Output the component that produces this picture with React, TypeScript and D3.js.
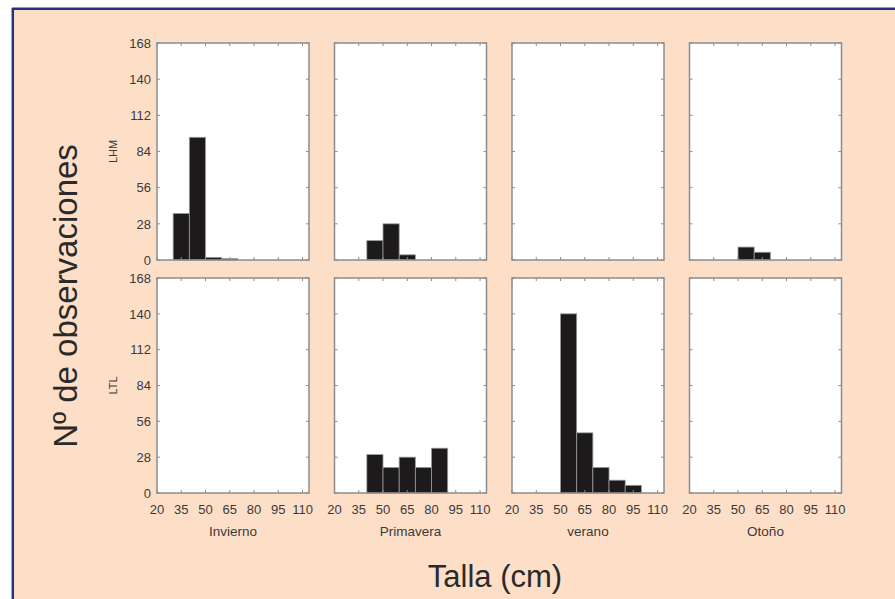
import React from "react";
import * as d3 from "d3";

const seasons = ["Invierno", "Primavera", "verano", "Otoño"];
const rowNames = ["LHM", "LTL"];
const xTicks = [20, 35, 50, 65, 80, 95, 110];
const yTicks = [0, 28, 56, 84, 112, 140, 168];
const binWidth = 10;

// LHM row
const lhmInviernoBins = [30, 40, 50, 60];
const lhmInviernoCounts = [36, 95, 2, 1];
const lhmPrimaveraBins = [40, 50, 60];
const lhmPrimaveraCounts = [15, 28, 4];
const lhmVeranoBins: number[] = [];
const lhmVeranoCounts: number[] = [];
const lhmOtonoBins = [50, 60];
const lhmOtonoCounts = [10, 6];

// LTL row
const ltlInviernoBins: number[] = [];
const ltlInviernoCounts: number[] = [];
const ltlPrimaveraBins = [40, 50, 60, 70, 80];
const ltlPrimaveraCounts = [30, 20, 28, 20, 35];
const ltlVeranoBins = [50, 60, 70, 80, 90];
const ltlVeranoCounts = [140, 47, 20, 10, 6];
const ltlOtonoBins: number[] = [];
const ltlOtonoCounts: number[] = [];

const panels = [
  [
    [lhmInviernoBins, lhmInviernoCounts],
    [lhmPrimaveraBins, lhmPrimaveraCounts],
    [lhmVeranoBins, lhmVeranoCounts],
    [lhmOtonoBins, lhmOtonoCounts],
  ],
  [
    [ltlInviernoBins, ltlInviernoCounts],
    [ltlPrimaveraBins, ltlPrimaveraCounts],
    [ltlVeranoBins, ltlVeranoCounts],
    [ltlOtonoBins, ltlOtonoCounts],
  ],
];

const W = 895;
const H = 599;
const panelLefts = [157, 334.5, 512, 689.5];
const panelW = 152;
const rowTops = [43, 278];
const rowBottoms = [260, 493];
const FONT = "'Liberation Sans', Arial, sans-serif";
const TXT = "#3a3a3a";
const FRAME = "#8c8c8c";

export default function App() {
  return (
    <svg
      width={W}
      height={H}
      style={{ position: "absolute", left: 0, top: 0, display: "block" }}
      fontFamily={FONT}
    >
      <rect x={0} y={0} width={W} height={H} fill="#ffffff" />
      <rect x={12} y={8} width={W - 12} height={H - 8} fill="#fddfc8" />
      <line x1={12} x2={W} y1={8.8} y2={8.8} stroke="#22337f" strokeWidth={2.5} />
      <line x1={12.8} x2={12.8} y1={8} y2={H} stroke="#22337f" strokeWidth={2.5} />

      {rowNames.map((rn, ri) => {
        const y = d3.scaleLinear().domain([0, 168]).range([rowBottoms[ri], rowTops[ri]]);
        return (
          <g key={rn}>
            <text
              transform={`translate(${117},${(rowTops[ri] + rowBottoms[ri]) / 2}) rotate(-90)`}
              textAnchor="middle"
              fontSize={11}
              fill={TXT}
            >
              {rn}
            </text>
            {yTicks.map((t) => (
              <text
                key={t}
                x={151}
                y={y(t)}
                dy="0.36em"
                textAnchor="end"
                fontSize={13}
                fill={TXT}
              >
                {t}
              </text>
            ))}
            {seasons.map((s, si) => {
              const x0 = panelLefts[si];
              const x = d3.scaleLinear().domain([20, 114]).range([x0, x0 + panelW]);
              const [bins, counts] = panels[ri][si];
              return (
                <g key={s}>
                  <rect
                    x={x0}
                    y={rowTops[ri]}
                    width={panelW}
                    height={rowBottoms[ri] - rowTops[ri]}
                    fill="#ffffff"
                  />
                  {bins.map((b, bi) => (
                    <rect
                      key={b}
                      x={x(b)}
                      y={y(counts[bi])}
                      width={x(b + binWidth) - x(b)}
                      height={y(0) - y(counts[bi])}
                      fill="#1c1a1b"
                      stroke="#9a9a9a"
                      strokeWidth={0.8}
                    />
                  ))}
                  {xTicks.map((t) => (
                    <g key={t}>
                      <line x1={x(t)} x2={x(t)} y1={rowTops[ri]} y2={rowTops[ri] + 3} stroke={FRAME} strokeWidth={1} />
                      <line x1={x(t)} x2={x(t)} y1={rowBottoms[ri]} y2={rowBottoms[ri] - 3} stroke={FRAME} strokeWidth={1} />
                    </g>
                  ))}
                  {yTicks.map((t) => (
                    <g key={t}>
                      <line x1={x0} x2={x0 + 3} y1={y(t)} y2={y(t)} stroke={FRAME} strokeWidth={1} />
                      <line x1={x0 + panelW} x2={x0 + panelW - 3} y1={y(t)} y2={y(t)} stroke={FRAME} strokeWidth={1} />
                    </g>
                  ))}
                  <rect
                    x={x0}
                    y={rowTops[ri]}
                    width={panelW}
                    height={rowBottoms[ri] - rowTops[ri]}
                    fill="none"
                    stroke={FRAME}
                    strokeWidth={1.5}
                  />
                  {ri === 1 &&
                    xTicks.map((t) => (
                      <text
                        key={t}
                        x={x(t)}
                        y={514}
                        textAnchor="middle"
                        fontSize={13}
                        fill={TXT}
                      >
                        {t}
                      </text>
                    ))}
                  {ri === 1 && (
                    <text
                      x={x0 + panelW / 2}
                      y={536}
                      textAnchor="middle"
                      fontSize={13.5}
                      fill={TXT}
                    >
                      {s}
                    </text>
                  )}
                </g>
              );
            })}
          </g>
        );
      })}

      <text
        transform={`translate(${77},${296}) rotate(-90)`}
        textAnchor="middle"
        fontSize={33}
        fill="#2a2a2a"
      >
        Nº de observaciones
      </text>
      <text x={495} y={587} textAnchor="middle" fontSize={31} fill="#2a2a2a">
        Talla (cm)
      </text>
    </svg>
  );
}
